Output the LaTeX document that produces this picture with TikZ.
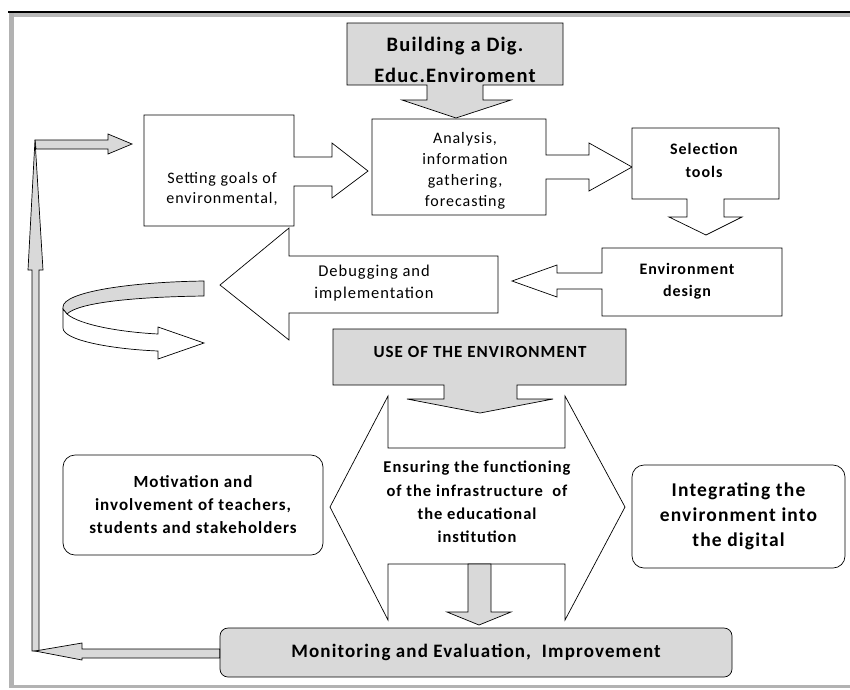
\documentclass[tikz,border=0pt]{standalone}
\usepackage{fontspec}
\setmainfont{Carlito}[LetterSpace=6]
\begin{document}
\begin{tikzpicture}[x=1pt, y=-1pt,
    blk/.style={draw=black, line width=0.7pt, fill=white, line join=miter},
    greyblk/.style={blk, fill=gray!30},
    lbl/.style={align=center, inner sep=0pt, font=\fontsize{16}{21}\selectfont},
    blbl/.style={align=center, inner sep=0pt, font=\bfseries\fontsize{16}{23}\selectfont},
    roundbox/.style={draw=black, line width=0.7pt, rounded corners=12pt, align=center, inner sep=0pt}]
    \useasboundingbox (0,0) rectangle (850,689);

    % frame
    \fill[gray!55] (9,12) rectangle (850,17);
    \fill[gray!60] (9,12) rectangle (14,688);
    \fill[gray!60] (9,685) rectangle (850,688);
    \draw[line width=1.4pt] (8,12) -- (850,12);

    % first row
    \draw[greyblk] (347,23) -- (563,23) -- (563,85) -- (483,85) -- (483,100) -- (511,100)
        -- (456,118) -- (402,100) -- (427,100) -- (427,85) -- (347,85) -- cycle;
    \node[blbl, font=\bfseries\fontsize{20.5}{31}\selectfont] (build) at (455,60) {Building a Dig.\\Educ.Enviroment};

    \draw[blk] (144,115) -- (294,115) -- (294,157) -- (332,157) -- (332,143) -- (368,171)
        -- (332,198) -- (332,186) -- (294,186) -- (294,226) -- (144,226) -- cycle;
    \node[lbl, font=\fontsize{16}{20}\selectfont] (goals) at (222,189) {Setting goals of\\environmental,};

    \draw[blk] (372,119) -- (546,119) -- (546,155) -- (589,155) -- (589,143) -- (632,167)
        -- (589,191) -- (589,179) -- (546,179) -- (546,215) -- (372,215) -- cycle;
    \node[lbl] (analysis) at (465,171) {Analysis,\\information\\gathering,\\forecasting};

    \draw[blk] (632,128) -- (779,128) -- (779,199) -- (724,199) -- (724,217) -- (742,217)
        -- (706,235) -- (669,217) -- (687,217) -- (687,199) -- (632,199) -- cycle;
    \node[blbl] (select) at (704,160) {Selection\\tools};

    % second row
    \draw[blk] (602,248) -- (782,248) -- (782,316) -- (602,316) -- (602,289) -- (557,289)
        -- (557,297) -- (512,281) -- (557,265) -- (557,273) -- (602,273) -- cycle;
    \node[blbl, font=\bfseries\fontsize{16}{22}\selectfont] (design) at (687,281) {Environment\\design};

    \draw[blk] (498,256) -- (498,313) -- (289,313) -- (289,340) -- (220,285) -- (289,228)
        -- (289,256) -- cycle;
    \node[lbl, font=\fontsize{16.5}{22}\selectfont] (debug) at (374,283) {Debugging and\\implementation};

    % turning arrow
    \draw[greyblk] (204,281) .. controls (130,282) and (63,292) .. (63,307) -- (63,309)
        -- (67,314) .. controls (78,303) and (130,297) .. (204,296) -- cycle;
    \draw[blk] (63,309) -- (67,314) .. controls (80,325) and (120,332) .. (158,334)
        -- (158,327) -- (204,343) -- (158,359) -- (158,351)
        .. controls (110,349) and (63,340) .. (63,328) -- cycle;

    % use of the environment
    \draw[blk] (330,507) -- (388,396) -- (388,448) -- (565,448) -- (565,396) -- (625,507)
        -- (565,620) -- (565,564) -- (388,564) -- (388,620) -- cycle;
    \draw[greyblk] (333,329) -- (626,329) -- (626,385) -- (517,385) -- (517,399) -- (553,399)
        -- (480,413) -- (407,399) -- (444,399) -- (444,385) -- (333,385) -- cycle;
    \node[blbl, font=\bfseries\fontsize{17}{23}\selectfont] (use) at (480,352) {USE OF THE ENVIRONMENT};
    \node[blbl, font=\bfseries\fontsize{16.5}{23.3}\selectfont] (infra) at (477,502)
        {Ensuring the functioning\\of the infrastructure\ \ of\\the educational\\institution};

    \node[roundbox, minimum width=260pt, minimum height=100pt, font=\bfseries\fontsize{17}{23}\selectfont]
        (motiv) at (193,505) {Motivation and\\involvement of teachers,\\students and stakeholders};
    \node[roundbox, minimum width=213pt, minimum height=103pt, font=\bfseries\fontsize{19.5}{25}\selectfont]
        (integr) at (738.5,516.5) {Integrating the\\environment into\\the digital};

    % down to monitoring
    \draw[greyblk] (468,564) -- (491,564) -- (491,612) -- (511,612) -- (479,625) -- (447,612)
        -- (468,612) -- cycle;
    \node[roundbox, rounded corners=8pt, fill=gray!30, minimum width=512pt, minimum height=49pt,
        font=\bfseries\fontsize{19}{22}\selectfont] (monitor) at (476,652.5) {Monitoring and Evaluation,\ \ Improvement};

    % feedback
    \coordinate (turn) at (35,651);
    \coordinate (top) at (35,140);
    \draw[greyblk] (top) -- (108,140) -- (108,134) -- (132,144) -- (108,154) -- (108,149)
        -- (36,149) -- cycle;
    \draw[greyblk] (32,651) -- (32,270) -- (28,270) -- (top) -- (43,270) -- (39,270)
        -- (39,651) -- cycle;
    \draw[greyblk] (monitor.west |- 0,649) -- (82,649) -- (82,643) -- (turn) -- (82,660)
        -- (82,658) -- (monitor.west |- 0,658) -- cycle;
\end{tikzpicture}
\end{document}
